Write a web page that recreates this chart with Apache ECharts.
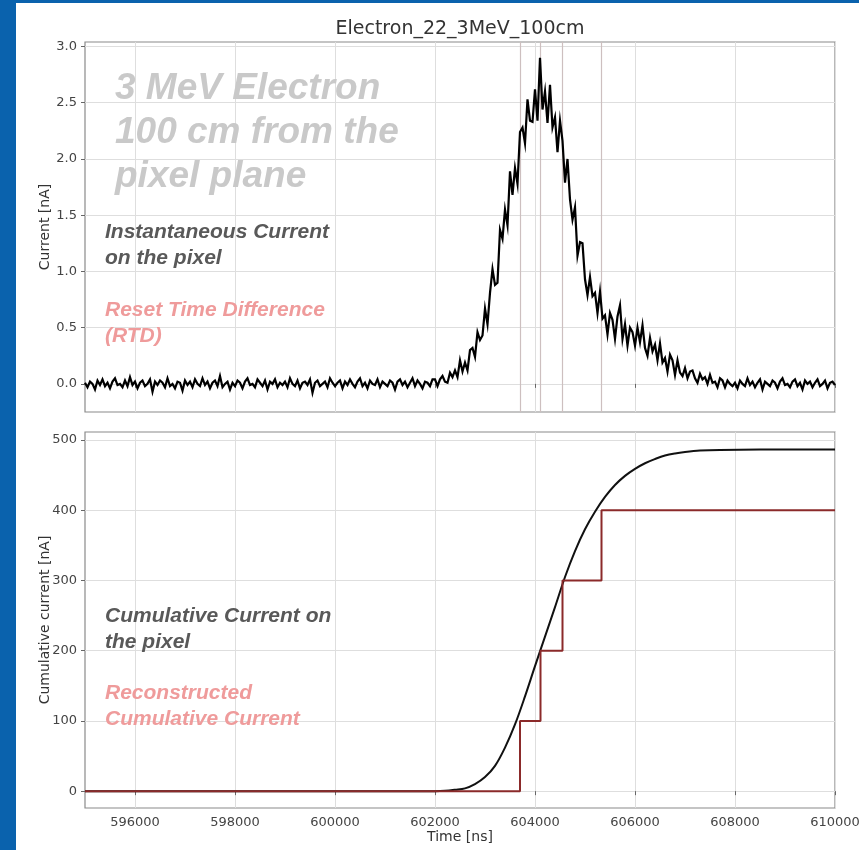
<!DOCTYPE html>
<html>
<head>
<meta charset="utf-8">
<title>Electron_22_3MeV_100cm</title>
<script src="https://cdn.jsdelivr.net/npm/echarts@6/dist/echarts.min.js"></script>
<style>
  html, body { margin: 0; padding: 0; background: #ffffff; }
  #chart { width: 859px; height: 850px; }
</style>
</head>
<body>
<div id="chart"></div>
<script>
// Instantaneous pixel current, sampled every 50 ns from 595000 ns
const sampleStart = 595000;
const sampleStep = 50;
const currentNA = [
  // 595000
  0.01,-0.03,0.02,0.00,-0.05,0.03,-0.01,0.04,-0.02,0.01,-0.04,0.02,0.05,-0.01,0.00,-0.03,0.03,-0.02,0.06,-0.01,
  // 596000
  0.02,-0.04,0.01,0.03,-0.02,0.00,0.04,-0.07,0.02,-0.01,0.03,0.01,-0.03,0.05,-0.02,0.00,-0.04,0.02,0.01,-0.06,
  // 597000
  0.03,-0.01,0.02,-0.03,0.04,0.00,-0.02,0.05,-0.01,0.02,-0.04,0.01,0.03,-0.02,0.07,-0.03,0.00,0.02,-0.05,0.01,
  // 598000
  -0.02,0.03,0.01,-0.04,0.02,0.05,-0.01,0.00,-0.03,0.04,0.01,-0.02,0.03,-0.05,0.02,0.00,0.04,-0.03,0.01,-0.01,
  // 599000
  0.02,-0.03,0.05,0.00,-0.02,0.03,-0.04,0.01,0.02,-0.01,0.04,-0.08,0.01,0.03,-0.02,0.00,0.02,-0.03,0.05,0.01,
  // 600000
  -0.02,0.01,0.03,-0.04,0.02,-0.01,0.04,0.00,-0.03,0.02,0.05,-0.02,0.01,-0.04,0.03,0.00,-0.01,0.04,-0.03,0.02,
  // 601000
  0.00,-0.02,0.03,0.01,-0.05,0.02,0.04,-0.01,0.02,-0.03,0.01,0.05,-0.02,0.03,0.00,-0.04,0.02,0.01,-0.02,0.04,
  // 602000
  0.04,-0.02,0.04,0.07,0.02,0.01,0.10,0.06,0.12,0.06,0.21,0.11,0.19,0.12,0.30,0.32,0.24,0.46,0.39,0.43,
  // 603000
  0.67,0.53,0.81,1.02,0.88,0.90,1.37,1.29,1.55,1.41,1.89,1.68,1.92,1.78,2.24,2.28,2.14,2.53,2.34,2.33,
  // 604000
  2.62,2.34,2.90,2.44,2.60,2.32,2.66,2.28,2.37,2.06,2.34,2.16,1.79,2.00,1.64,1.46,1.57,1.14,1.26,1.25,
  // 605000
  0.93,0.79,0.95,0.78,0.81,0.63,0.82,0.58,0.61,0.44,0.63,0.57,0.40,0.60,0.70,0.40,0.53,0.34,0.50,0.46,
  // 606000
  0.34,0.50,0.37,0.52,0.32,0.25,0.41,0.29,0.35,0.21,0.36,0.19,0.23,0.11,0.26,0.21,0.08,0.21,0.10,0.07,
  // 607000
  0.14,0.05,0.11,0.12,0.05,0.01,0.09,0.04,0.06,0.00,0.08,0.01,0.02,-0.03,0.05,0.03,-0.03,0.03,0.00,-0.02,
  // 608000
  0.01,-0.04,0.03,0.00,-0.02,0.05,-0.01,0.02,-0.03,0.01,0.04,-0.05,0.02,0.00,-0.02,0.03,0.01,-0.04,0.02,0.05,
  // 609000
  -0.01,0.00,-0.03,0.02,0.04,-0.02,0.01,-0.05,0.03,0.00,0.02,-0.03,0.01,0.04,-0.02,0.00,0.03,-0.04,0.01,0.02,
  // 610000
  -0.01
];

// Cumulative current on the pixel
const cumTime  = [595000, 602000, 602200, 602400, 602600, 602800, 603000, 603200, 603400, 603600,
                  603800, 604000, 604200, 604400, 604600, 604800, 605000, 605200, 605400, 605600,
                  605800, 606000, 606200, 606400, 606600, 606800, 607000, 607300, 607700, 608500, 610000];
const cumValue = [0, 0, 0.5, 2, 4, 10, 20, 36, 62, 95,
                  135, 178, 220, 262, 305, 342, 373, 398, 419, 436,
                  449, 459, 467, 473, 478, 481, 483, 485, 486, 486.5, 486.5];

// Reset times and reconstructed cumulative levels
const resetTimes  = [603700, 604110, 604550, 605330];
const resetLevels = [100, 200, 300, 400];
const timeStart = 595000;
const timeEnd = 610000;

// Tick labels
const timeTicks = [596000, 598000, 600000, 602000, 604000, 606000, 608000, 610000];
const currentTicks = [0, 0.5, 1.0, 1.5, 2.0, 2.5, 3.0];
const cumulativeTicks = [0, 100, 200, 300, 400, 500];

const currentData = currentNA.map((v, i) => [sampleStart + i * sampleStep, v]);
const cumData = cumTime.map((t, i) => [t, cumValue[i]]);
const stepData = [[timeStart, 0]]
  .concat(resetTimes.map((t, i) => [t, resetLevels[i]]))
  .concat([[timeEnd, resetLevels[resetLevels.length - 1]]]);

const tickFont = { fontFamily: 'DejaVu Sans', fontSize: 13, color: '#444' };
const gridLine = { show: true, lineStyle: { color: '#dedede', width: 1 } };
const frameColor = '#8a8a8a';
const nameFont = { fontFamily: 'DejaVu Sans', fontSize: 14, color: '#333' };

function xAxisCfg(gridIndex, showLabels) {
  return {
    type: 'value', gridIndex, min: timeStart, max: timeEnd,
    minInterval: 2000, maxInterval: 2000,
    axisLine: { show: false },
    axisTick: { show: true, length: 4, customValues: timeTicks, lineStyle: { color: '#666' } },
    axisLabel: Object.assign({ show: showLabels, margin: 8, customValues: timeTicks,
      formatter: v => String(v) }, tickFont),
    splitLine: gridLine,
    name: showLabels ? 'Time [ns]' : '',
    nameLocation: 'middle', nameGap: 22,
    nameTextStyle: nameFont
  };
}

const annotFont = 'italic bold 21px "Liberation Sans", Arial, sans-serif';
function note(text, x, y, fill, font, lh) {
  return {
    type: 'text', x, y, z: 100, silent: true,
    style: { text, fill, font: font || annotFont, lineHeight: lh || 26,
             textAlign: 'left', align: 'left', textVerticalAlign: 'top', verticalAlign: 'top' }
  };
}

const chart = echarts.init(document.getElementById('chart'), null, { renderer: 'canvas' });
chart.setOption({
  animation: false,
  backgroundColor: '#ffffff',
  grid: [
    { left: 85, right: 24, top: 42, height: 370, show: true, borderColor: frameColor, borderWidth: 1.2,
      backgroundColor: '#ffffff', outerBoundsMode: 'none', containLabel: false },
    { left: 85, right: 24, top: 432, height: 376, show: true, borderColor: frameColor, borderWidth: 1.2,
      backgroundColor: '#ffffff', outerBoundsMode: 'none', containLabel: false }
  ],
  xAxis: [ xAxisCfg(0, false), xAxisCfg(1, true) ],
  yAxis: [
    {
      type: 'value', gridIndex: 0, min: -0.25, max: 3.04, minInterval: 0.5, maxInterval: 0.5,
      axisLine: { show: false },
      axisTick: { show: true, length: 4, customValues: currentTicks, lineStyle: { color: '#666' } },
      axisLabel: Object.assign({ margin: 8, customValues: currentTicks, formatter: v => v.toFixed(1) }, tickFont),
      splitLine: gridLine,
      name: 'Current [nA]', nameLocation: 'middle', nameGap: 33, nameMoveOverlap: false,
      nameTextStyle: nameFont
    },
    {
      type: 'value', gridIndex: 1, min: -24, max: 511.5, minInterval: 100, maxInterval: 100,
      axisLine: { show: false },
      axisTick: { show: true, length: 4, customValues: cumulativeTicks, lineStyle: { color: '#666' } },
      axisLabel: Object.assign({ margin: 8, customValues: cumulativeTicks, formatter: v => String(v) }, tickFont),
      splitLine: gridLine,
      name: 'Cumulative current [nA]', nameLocation: 'middle', nameGap: 33, nameMoveOverlap: false,
      nameTextStyle: nameFont
    }
  ],
  series: [
    {
      // reset time markers on the instantaneous current panel
      type: 'line', xAxisIndex: 0, yAxisIndex: 0, data: [], silent: true,
      markLine: {
        silent: true, symbol: ['none', 'none'], label: { show: false },
        emphasis: { disabled: true },
        lineStyle: { color: '#cdbfbf', width: 1.2, type: 'solid' },
        data: resetTimes.map(t => ({ xAxis: t }))
      }
    },
    {
      name: 'current', type: 'line', xAxisIndex: 0, yAxisIndex: 0,
      data: currentData, showSymbol: false, sampling: 'none',
      lineStyle: { color: '#000000', width: 2.2, join: 'miter' }, z: 5
    },
    {
      name: 'cumulative', type: 'line', xAxisIndex: 1, yAxisIndex: 1,
      data: cumData, showSymbol: false, smooth: 0.35,
      lineStyle: { color: '#111111', width: 2 }, z: 5
    },
    {
      name: 'reconstructed', type: 'line', xAxisIndex: 1, yAxisIndex: 1,
      data: stepData, step: 'end', showSymbol: false,
      lineStyle: { color: '#8b2a2a', width: 2 }, z: 6
    }
  ],
  graphic: [
    { type: 'rect', shape: { x: 0, y: 0, width: 16, height: 850 }, style: { fill: '#0a62ad' }, z: 200, silent: true },
    { type: 'rect', shape: { x: 0, y: 0, width: 859, height: 3 }, style: { fill: '#0a62ad' }, z: 200, silent: true },
    {
      type: 'text', x: 460, y: 29, silent: true, z: 100,
      style: { text: 'Electron_22_3MeV_100cm', font: '19px "DejaVu Sans", sans-serif', fill: '#333',
               textAlign: 'center', align: 'center', textVerticalAlign: 'middle', verticalAlign: 'middle' }
    },
    note('3 MeV Electron\n100 cm from the\npixel plane', 115, 67, '#c9c9c9',
         'italic bold 37px "Liberation Sans", Arial, sans-serif', 44),
    note('Instantaneous Current\non the pixel', 105, 219, '#595959'),
    note('Reset Time Difference\n(RTD)', 105, 297, '#ef9b9b'),
    note('Cumulative Current on\nthe pixel', 105, 603, '#595959'),
    note('Reconstructed\nCumulative Current', 105, 680, '#ef9b9b')
  ]
});
</script>
</body>
</html>
